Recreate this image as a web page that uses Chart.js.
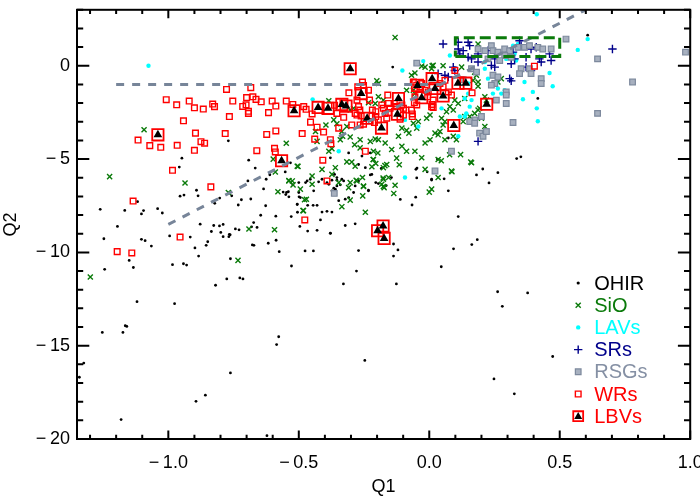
<!DOCTYPE html>
<html>
<head>
<meta charset="utf-8">
<script src="https://cdn.jsdelivr.net/npm/chart.js@4.4.0/dist/chart.umd.min.js"></script>
<style>
  html, body { margin: 0; padding: 0; background: #fff; }
</style>
</head>
<body>
<canvas id="c" width="700" height="500"></canvas>
<script>
// Q1 / Q2 pairs, one list per class
const ohir = [
  [-0.77,-4.02],[-0.948,-4.95],[-0.958,-5.43],[-0.692,-5.06],[-0.667,-5.48],[-0.695,-6.17],[-0.611,-5.84],
  [-0.625,-6.08],[-0.635,-6.6],[-0.552,-5.69],[-0.523,-6.38],[-0.56,-6.77],[-0.55,-6.9],[-0.54,-6.75],
  [-0.499,-7.02],[-0.892,-6.67],[-0.886,-6.97],[-0.94,-6.93],[-0.955,-6.99],[-0.822,-7.37],[-0.803,-7.09],
  [-0.757,-6.97],[-0.72,-7.18],[-0.732,-7.46],[-0.684,-7.14],[-0.627,-7.5],[-0.646,-8.01],[-0.673,-8.4],
  [-0.66,-8.66],[-0.588,-8.06],[-0.506,-7.44],[-0.505,-7.85],[-0.878,-8.49],[-0.826,-8.56],[-0.804,-8.58],
  [-0.79,-8.5],[-0.835,-8.88],[-0.799,-8.93],[-0.763,-9.06],[-0.768,-9.16],[-0.79,-9.16],[-0.743,-8.74],
  [-0.729,-8.79],[-0.681,-8.63],[-0.587,-9.35],[-0.995,-9.12],[-0.916,-9.18],[-1.261,-7.69],[-1.167,-7.75],
  [-1.118,-7.28],[-1.095,-7.76],[-1.103,-7.94],[-1.041,-7.66],[-1.023,-7.89],[-1.195,-8.61],[-1.247,-9.27],
  [-1.103,-9.3],[-1.089,-9.37],[-1.244,-10.91],[-1.065,-9.66],[-1.15,-10.43],[-1.134,-10.81],[-1.12,-12.64],
  [-1.253,-14.29],[-1.174,-14.29],[-1.165,-13.93],[-1.159,-13.97],[-1.324,-15.93],[-1.341,-16.69],[-1.181,-18.96],
  [-0.984,-10.66],[-0.976,-12.75],[-0.942,-10.61],[-0.93,-10.68],[-0.898,-9.76],[-0.884,-10.2],[-0.855,-9.62],
  [-0.849,-9.43],[-0.766,-9.03],[-0.819,-11.76],[-0.776,-11.42],[-0.762,-10.34],[-0.726,-11.37],[-0.714,-11.42],
  [-0.678,-9.6],[-0.672,-9.62],[-0.617,-9.51],[-0.575,-9.96],[-0.528,-10.73],[-0.476,-9.92],[-0.444,-9.92],
  [-0.379,-8.98],[-0.329,-11.69],[-0.279,-11.0],[-0.271,-9.9],[-0.247,-15.79],[-0.577,-14.52],[-0.585,-14.94],
  [-0.762,-16.46],[-0.858,-17.65],[-0.894,-17.98],[-0.622,-19.82],
  [-0.047,-5.48],[-0.008,-5.68],[0.009,-6.12],[0.057,-6.06],[0.073,-6.7],[0.031,-5.0],[-0.048,-6.01],
  [-0.052,-7.04],[-0.066,-7.46],[-0.111,-7.16],[-0.145,-5.99],[-0.165,-6.42],[-0.195,-6.31],[-0.205,-6.26],
  [-0.226,-5.85],[-0.233,-6.67],[-0.184,-5.5],[0.181,-5.85],[0.205,-5.53],[0.229,-6.28],[0.263,-5.73],
  [0.335,-4.97],[0.351,-4.88],[0.111,-8.08],[0.093,-9.81],[0.163,-9.58],[0.184,-9.32],[0.046,-10.77],
  [-0.137,-9.55],[-0.12,-9.87],[-0.137,-10.2],[-0.126,-11.69],[0.262,-12.11],[0.377,-12.17],[0.28,-12.89],
  [0.473,-15.58],[0.248,-16.78],[0.326,-17.58],
  [-0.474,-6.26],[-0.468,-6.17],[-0.456,-6.08],[-0.547,-6.79],[-0.538,-7.02],[-0.5,-6.79],[-0.494,-7.06],
  [-0.506,-7.41],[-0.529,-8.08],[-0.466,-7.48],[-0.445,-7.48],[-0.43,-7.48],[-0.496,-8.61],[-0.466,-8.86],
  [-0.43,-8.82],[-0.411,-7.84],[-0.392,-7.8],[-0.373,-7.84],[-0.417,-8.26],[-0.379,-8.97],[-0.347,-7.23],
  [-0.322,-7.15],[-0.309,-7.06],[-0.366,-6.56],[-0.354,-6.44],[-0.341,-6.38],[-0.373,-6.13],[-0.354,-6.13],
  [-0.328,-6.17],[-0.29,-6.79],[-0.271,-6.17],[-0.233,-6.7],[-0.322,-8.56],[-0.284,-8.47],
  [-0.14,-0.07],[0.607,1.64],[0.073,-3.87],[-0.051,-5.55],[0.009,-6.08],[-0.258,-4.84],[-0.226,-4.67],
  [-0.271,-5.29],[-0.245,-5.46],[-0.22,-5.82],[-0.309,-4.67],[-0.379,-4.93],[-0.363,-5.82],[-0.354,-5.99],
  [-0.335,-6.08],[-0.411,-6.08],[-0.424,-6.22],[-0.392,-6.26],[-0.385,-6.35],[-0.373,-6.7],[-0.36,-6.61],
  [-0.284,-6.44],[-0.443,-6.7],[-0.5,-6.26],[-0.532,-5.2],[0.416,-1.75],[0.314,-0.78]
];
const sio = [
  [-1.093,-3.43],[-1.225,-5.94],[-0.936,-6.28],[-0.77,-6.79],[-0.548,-4.15],[-0.598,-5.0],[-0.59,-5.69],
  [-0.538,-6.15],[-0.58,-6.75],[-0.503,-5.39],[-0.478,-7.18],[-0.482,-7.76],[-0.691,-8.75],[-0.593,-8.79],
  [-1.299,-11.32],[-0.733,-10.43],
  [-0.177,-6.01],[-0.176,-6.47],[-0.136,-6.84],[0.0,-6.77],[0.087,-5.68],[0.162,-5.2],[0.046,-5.09],
  [0.078,-4.77],[0.12,-4.76],[-0.17,-5.35],[-0.215,-5.02],[-0.115,-5.3],[-0.125,-4.95],
  [-0.201,-0.81],[-0.055,-0.39],[0.011,0.0],[0.053,0.0],[-0.029,-0.02],[0.181,-0.51],[0.187,-1.1],
  [0.168,-0.78],[-0.385,-1.87],[-0.396,-3.17],[-0.436,-3.52],[-0.43,-4.05],[-0.373,-4.44],[-0.341,-3.96],
  [-0.332,-3.78],[-0.303,-3.82],[-0.265,-3.96],[-0.286,-4.23],[-0.265,-4.4],[-0.207,-3.93],[-0.195,-3.96],
  [-0.226,-4.05],[-0.214,-4.58],[-0.197,-4.67],[-0.214,-5.02],[-0.205,-5.24],[-0.22,-5.41],[-0.176,-5.46],
  [-0.163,-5.29],[-0.284,-5.38],[-0.252,-6.47],[-0.277,-6.17],[-0.316,-5.15],[-0.297,-5.16],[-0.36,-5.46],
  [-0.373,-5.82],[-0.347,-6.26],[-0.411,-5.55],[-0.449,-5.91],[-0.506,-5.38],[-0.525,-6.17],[-0.309,-6.53],
  [-0.156,-5.99],[-0.131,-6.4],[-0.169,-4.14],[-0.144,-4.49],[-0.118,-3.78],[-0.105,-4.31],[-0.087,-4.58],
  [-0.105,-3.34],[-0.087,-3.46],[-0.078,-3.61],[-0.061,-3.08],[-0.048,-3.34],[-0.055,-4.58],[-0.029,-4.93],
  [-0.016,-4.14],[0.003,-3.96],[0.022,-3.61],[0.034,-3.7],[0.047,-2.81],[0.06,-2.99],[0.053,-3.17],
  [0.041,-3.52],[0.06,-3.96],[0.092,-3.78],[0.104,-3.96],[-0.016,-5.55],[0.034,-5.02],[0.085,-5.64],
  [0.159,-5.16],[0.155,-2.72],[0.174,-2.55],[0.193,-2.28],[0.079,-2.19],[0.066,-2.46],[0.136,-1.75],
  [0.2,-2.81],[0.213,-3.25],[-0.316,-3.25],[-0.335,-3.52],[-0.366,-2.9],[-0.354,-3.11],[-0.303,-2.37],
  [-0.29,-2.28],[-0.233,-1.98],[-0.207,-2.02],[-0.385,-4.58],[-0.449,-6.35],[-0.494,-6.61],[0.009,-6.61],
  [0.034,-5.99],[-0.256,-5.99],[-0.182,-6.35],
  [-0.131,1.52],[0.187,1.17],[-0.195,-0.95],[0.015,0.02],[-0.016,-0.07],[0.009,-0.16],[0.174,-0.34],
  [0.124,-0.07],[0.187,-0.87],[0.263,-0.87],[0.276,-0.69],[0.213,-1.66],[0.219,-1.84],[0.187,-2.37],
  [0.098,-1.84],[0.111,-2.02],[0.092,-2.37],[0.136,-2.72],[0.13,-2.99],[0.003,-2.64],[-0.042,-2.99],
  [-0.01,-2.81],[-0.061,-1.31],[-0.055,-1.49],[-0.087,-1.31],[-0.068,-0.51],[-0.176,-1.84],[-0.195,-1.66],
  [-0.538,-6.17],[-0.522,-6.38],[-0.471,-7.15],[-0.484,-7.76],[-0.335,-7.55],[-0.303,-7.2],[-0.303,-6.26],
  [-0.28,-6.14],[-0.252,-6.44],[-0.255,-6.97],[-0.245,-7.85],[-0.176,-6.08],[-0.173,-6.53]
];
const lavs = [
  [-1.076,0.0],[0.412,2.76],[0.607,1.43],[0.569,0.85],[0.461,-0.39],[0.473,-1.1],[0.397,-1.4],[0.359,-1.79],
  [0.412,-2.28],[0.276,-1.49],[0.289,-1.31],[0.225,-0.69],[0.213,0.2],[0.321,1.08],[0.34,1.17],[0.352,0.99],
  [0.314,0.81],[0.327,0.64],[0.079,0.55],[0.149,-0.95],[0.244,-1.49],[0.162,-1.84],[0.155,-2.19],
  [0.142,-2.55],[0.257,-0.95],[0.263,-1.22],[0.213,-0.16],[-0.103,-0.25],[-0.042,-3.25],[0.117,-2.72],
  [0.333,0.28],[0.295,0.37],[0.365,-0.87],[-0.023,0.25],[-0.447,-1.8],[-0.347,-4.58],[-0.093,-2.9],
  [0.047,-2.28],[0.136,-1.75],[0.149,-1.49],[0.136,-2.72],[0.111,-3.78],[-0.093,-5.99],[0.416,-2.97]
];
const srs = [
  [0.053,1.17],[0.111,1.26],[0.149,1.26],[0.155,1.08],[0.111,0.9],[0.13,0.81],[0.117,0.64],[0.149,0.46],
  [0.162,0.37],[0.187,0.64],[0.225,0.81],[0.251,0.37],[0.187,0.2],[0.263,0.64],[0.295,0.64],[0.321,0.73],
  [0.346,1.34],[0.352,1.08],[0.327,0.37],[0.314,0.11],[0.371,0.46],[0.39,0.9],[0.41,0.99],[0.422,0.37],
  [0.429,0.2],[0.461,0.64],[0.467,0.28],[0.702,0.9],[0.238,0.02],[0.251,-0.07],[0.092,-0.07],[0.098,-0.25],
  [0.06,-0.51],[0.073,-0.6],[0.308,-0.69],[0.314,-0.81],[0.371,-0.07],[0.39,-0.25],[0.034,-0.42],[0.187,-4.05]
];
const rsgs = [
  [0.524,1.43],[0.187,0.9],[0.213,0.81],[0.238,1.08],[0.244,0.81],[0.263,0.73],[0.289,0.9],[0.308,0.81],
  [0.34,0.99],[0.365,0.99],[0.384,1.08],[0.416,0.99],[0.435,0.9],[0.467,0.9],[0.289,0.55],[0.314,0.46],
  [0.225,0.37],[0.27,0.28],[0.645,0.37],[0.982,0.73],[0.779,-0.87],[0.352,-0.16],[0.384,-0.16],[0.346,-0.42],
  [0.39,-0.42],[0.429,-0.69],[0.429,-0.95],[0.244,-0.51],[0.263,-0.6],[0.295,-1.4],[0.295,-1.57],[0.251,-0.95],
  [0.238,-1.04],[0.295,-2.02],[0.257,-1.84],[0.645,-2.55],[0.321,-3.04],[0.2,-2.72],[0.174,-2.9],[0.155,-2.99],
  [-0.048,0.14],[0.162,-0.16],[0.181,-0.34],[0.13,-0.74],[0.174,-3.08],[0.193,-3.61],[0.206,-3.78],
  [0.085,-4.58],[0.022,-5.64],[0.219,-3.52],[-0.364,-6.84]
];
const wrs = [
  [-1.008,-1.82],[-0.968,-2.09],[-0.92,-1.89],[-0.9,-2.25],[-0.866,-2.32],[-0.83,-2.05],[-0.823,-2.19],
  [-0.777,-1.27],[-0.753,-1.89],[-0.766,-2.72],[-0.715,-2.18],[-0.702,-2.09],[-0.693,-2.44],[-0.693,-2.55],
  [-0.684,-1.17],[-0.7,-1.7],[-0.676,-1.66],[-0.664,-1.8],[-0.644,-1.93],[-0.616,-2.51],[-0.602,-1.89],
  [-0.588,-2.16],[-0.548,-1.89],[-0.523,-2.07],[-0.481,-2.19],[-0.942,-2.95],[-0.896,-3.61],[-0.875,-4.07],
  [-0.861,-4.15],[-0.9,-4.53],[-0.966,-4.26],[-1.029,-4.37],[-1.071,-4.28],[-1.116,-3.98],[-0.782,-3.63],
  [-0.623,-3.68],[-0.588,-3.49],[-0.487,-3.63],[-0.661,-4.55],[-0.593,-4.42],[-0.59,-4.62],[-0.984,-5.6],
  [-0.837,-6.49],[-1.135,-7.25],[-0.955,-9.18],[-0.477,-8.26],[-1.196,-9.96],[-1.14,-10.03],
  [-0.472,-2.33],[-0.449,-2.58],[-0.455,-3.02],[-0.43,-3.29],[-0.439,-3.93],[-0.405,-3.55],[-0.379,-3.96],
  [-0.377,-4.18],[-0.347,-3.34],[-0.354,-2.55],[-0.363,-2.12],[-0.328,-2.76],[-0.308,-1.45],[-0.297,-3.17],
  [-0.284,-2.55],[-0.277,-1.84],[-0.271,-2.19],[-0.266,-2.37],[-0.274,-1.13],[-0.256,-0.87],[-0.252,-1.06],
  [-0.233,-1.31],[-0.229,-1.84],[-0.252,-3.13],[-0.265,-3.17],[-0.277,-2.64],[-0.261,-2.69],[-0.22,-2.69],
  [-0.205,-2.72],[-0.195,-2.9],[-0.21,-3.04],[-0.218,-2.37],[-0.205,-2.46],[-0.182,-2.1],[-0.176,-2.28],
  [-0.169,-2.55],[-0.159,-1.57],[-0.156,-2.02],[-0.15,-2.28],[-0.156,-2.51],[-0.163,-2.81],[-0.134,-2.02],
  [-0.125,-2.19],[-0.105,-2.1],[-0.099,-2.28],[-0.112,-2.86],[-0.099,-2.64],[-0.09,-2.37],[-0.068,-2.37],
  [-0.065,-2.58],[-0.065,-2.72],[-0.055,-1.66],[-0.057,-1.98],[-0.048,-2.1],[-0.061,-0.87],[-0.048,-1.04],
  [-0.036,-1.13],[-0.029,-0.95],[-0.016,-1.31],[-0.004,-1.4],[-0.006,-1.66],[0.015,-1.84],[0.011,-2.07],
  [0.015,-2.23],[0.073,-1.4],[0.085,-1.57],[0.041,-0.95],[0.053,-1.13],[0.06,-0.78],[0.164,-1.45],
  [-0.245,-4.58],[-0.408,-5.06],[-0.392,-6.17],[0.403,-0.02],[0.098,-0.25],[0.009,-2.19]
];
const lbvs = [
  [-1.04,-3.7],[-0.566,-5.09],[-0.518,-2.41],[-0.426,-2.23],[-0.388,-2.28],[-0.335,-2.07],[-0.319,-2.16],
  [-0.303,-0.16],[-0.261,-1.49],[-0.238,-2.81],[-0.183,-3.34],[-0.122,-2.6],[-0.118,-1.75],[-0.045,-1.05],
  [-0.029,-1.71],[0.011,-0.69],[0.022,-1.22],[0.053,-1.62],[0.094,-3.2],[0.11,-0.93],[0.14,-0.93],
  [0.22,-2.06],[-0.177,-8.59],[-0.198,-8.84],[-0.173,-9.25]
];

// reference lines and the selection box
const flatLine = [[-1.2,-1.0],[0.043,-1.0]];
const slopeLine = [[-1.0,-8.5],[0.6,3.0]];
const boxQ1 = [0.1, 0.5, 0.5, 0.1, 0.1];
const boxQ2 = [0.5, 0.5, 1.5, 1.5, 0.5];

// axes
const xRange = [-1.35, 1.0];
const yRange = [-20, 3];
const xMajor = [-1.0, -0.5, 0.0, 0.5, 1.0];
const yMajor = [-20, -15, -10, -5, 0];

const MINUS = '\u2212\u2009';
const FONT = '"Liberation Sans", Arial, Helvetica, sans-serif';

const pts = a => a.map(([x, y]) => ({ x, y }));

const series = [
  { label: 'OHIR', data: ohir, color: '#000000', style: { pointStyle: 'circle', radius: 1.4, fill: '#000', stroke: '#000', bw: 0 } },
  { label: 'SiO', data: sio, color: '#0a7a0a', style: { pointStyle: 'crossRot', radius: 3.6, fill: '#0a7a0a', stroke: '#0a7a0a', bw: 1.4 } },
  { label: 'LAVs', data: lavs, color: '#00ffff', style: { pointStyle: 'circle', radius: 2.2, fill: '#00ffff', stroke: '#00ffff', bw: 0 } },
  { label: 'SRs', data: srs, color: '#00008b', style: { pointStyle: 'cross', radius: 4.2, fill: '#00008b', stroke: '#00008b', bw: 1.4 } },
  { label: 'RSGs', data: rsgs, color: '#8590a4', style: { pointStyle: 'rect', radius: 4, fill: '#a7b0bf', stroke: '#7d899d', bw: 1.2 } },
  { label: 'WRs', data: wrs, color: '#ff0000', style: { pointStyle: 'rect', radius: 4, fill: 'rgba(255,255,255,0)', stroke: '#ff0000', bw: 1.4 } },
  { label: 'LBVs', data: lbvs, color: '#ff0000', style: { pointStyle: 'rect', radius: 8, fill: 'rgba(255,255,255,0)', stroke: '#ff0000', bw: 1.8 } }
];
const tri = { pointStyle: 'triangle', radius: 5, fill: '#000', stroke: '#000', bw: 0 };

const datasets = [];
series.forEach((s, i) => {
  datasets.push({
    label: s.label,
    data: pts(s.data),
    pointStyle: s.style.pointStyle,
    pointRadius: s.style.radius,
    pointBackgroundColor: s.style.fill,
    pointBorderColor: s.style.stroke,
    pointBorderWidth: s.style.bw,
    showLine: false,
    order: 20 - i * 2
  });
});
datasets.push({
  label: 'LBV core',
  data: pts(lbvs),
  pointStyle: 'triangle',
  pointRadius: tri.radius,
  pointBackgroundColor: tri.fill,
  pointBorderColor: tri.stroke,
  pointBorderWidth: 0,
  showLine: false,
  order: 5
});
datasets.push({
  label: 'flat', data: pts(flatLine), showLine: true, pointRadius: 0,
  borderColor: '#778599', borderWidth: 3, borderDash: [8, 8], order: 1
});
datasets.push({
  label: 'slope', data: pts(slopeLine), showLine: true, pointRadius: 0,
  borderColor: '#778599', borderWidth: 3, borderDash: [8, 8], order: 1
});
datasets.push({
  label: 'box', data: boxQ1.map((x, i) => ({ x, y: boxQ2[i] })), showLine: true, pointRadius: 0,
  borderColor: '#0a7a0a', borderWidth: 3, borderDash: [11, 5], order: 0
});

function fmt(v, digits) {
  const s = Math.abs(v).toFixed(digits);
  return v < -1e-9 ? MINUS + s : s;
}

function drawMark(ctx, st, x, y) {
  ctx.save();
  ctx.fillStyle = st.fill;
  ctx.strokeStyle = st.stroke;
  ctx.lineWidth = st.bw;
  Chart.helpers.drawPoint(ctx, { pointStyle: st.pointStyle, radius: st.radius, rotation: 0, borderWidth: st.bw }, x, y);
  ctx.restore();
}

// IDL-like frame: box on all sides with inward major and minor ticks
const framePlugin = {
  id: 'frame',
  afterDatasetsDraw(chart) {
    const { ctx, chartArea: a, scales } = chart;
    const xs = scales.x, ys = scales.y;
    ctx.save();
    ctx.strokeStyle = '#000';
    ctx.lineWidth = 2;
    ctx.strokeRect(a.left, a.top, a.right - a.left, a.bottom - a.top);
    ctx.beginPath();
    for (let k = -13; k <= 10; k++) {
      const v = k / 10;
      const px = xs.getPixelForValue(v);
      const len = (k % 5 === 0) ? 8.5 : 4.3;
      ctx.moveTo(px, a.bottom); ctx.lineTo(px, a.bottom - len);
      ctx.moveTo(px, a.top); ctx.lineTo(px, a.top + len);
    }
    for (let v = -20; v <= 3; v++) {
      const py = ys.getPixelForValue(v);
      const len = (v % 5 === 0) ? 12.3 : 6.2;
      ctx.moveTo(a.left, py); ctx.lineTo(a.left + len, py);
      ctx.moveTo(a.right, py); ctx.lineTo(a.right - len, py);
    }
    ctx.stroke();
    ctx.restore();

    // legend inside the lower right corner
    ctx.save();
    ctx.font = '20px ' + FONT;
    ctx.textBaseline = 'middle';
    ctx.textAlign = 'left';
    const sx = a.right - 112, tx = a.right - 96, y0 = a.bottom - 156;
    series.forEach((s, i) => {
      const y = y0 + i * 22.2;
      const st = Object.assign({}, s.style);
      if (s.label === 'LBVs') { st.radius = 7; }
      if (s.label === 'OHIR') { st.radius = 1.6; }
      drawMark(ctx, st, sx, y);
      if (s.label === 'LBVs') drawMark(ctx, Object.assign({}, tri, { radius: 4.6 }), sx, y + 0.5);
      ctx.fillStyle = s.color;
      ctx.fillText(s.label, tx, y + 1);
    });
    ctx.restore();
  }
};

new Chart(document.getElementById('c'), {
  type: 'scatter',
  data: { datasets },
  options: {
    responsive: false,
    animation: false,
    events: [],
    devicePixelRatio: 1,
    layout: { padding: { top: 5, right: 7, left: 0, bottom: 0 } },
    plugins: { legend: { display: false }, tooltip: { enabled: false } },
    scales: {
      x: {
        type: 'linear', min: xRange[0], max: xRange[1],
        grid: { display: false, drawTicks: false },
        border: { display: false },
        afterBuildTicks: s => { s.ticks = xMajor.map(v => ({ value: v })); },
        afterFit: s => { s.height = 61; s.paddingLeft = 0; s.paddingRight = 0; },
        ticks: {
          autoSkip: false, maxRotation: 0, padding: 13, color: '#000',
          font: { family: FONT, size: 18 },
          callback: v => fmt(v, 1)
        },
        title: {
          display: true, text: 'Q1', color: '#000',
          font: { family: FONT, size: 18 }, padding: { top: 0, bottom: 2 }
        }
      },
      y: {
        type: 'linear', min: yRange[0], max: yRange[1],
        grid: { display: false, drawTicks: false },
        border: { display: false },
        afterBuildTicks: s => { s.ticks = yMajor.map(v => ({ value: v })); },
        afterFit: s => { s.width = 77; s.paddingTop = 0; s.paddingBottom = 0; },
        ticks: {
          autoSkip: false, padding: 7, color: '#000',
          font: { family: FONT, size: 18 },
          callback: v => fmt(v, 0)
        },
        title: {
          display: true, text: 'Q2', color: '#000',
          font: { family: FONT, size: 18 }, padding: { top: 0, bottom: 0 }
        }
      }
    }
  },
  plugins: [framePlugin]
});
</script>
</body>
</html>
